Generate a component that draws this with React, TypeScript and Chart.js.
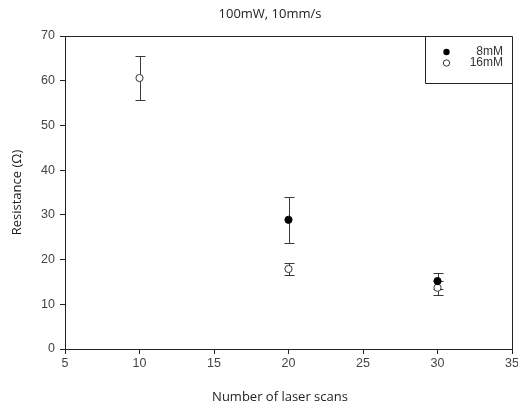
import { useEffect, useRef } from 'react';
import { Chart, registerables } from 'chart.js';

Chart.register(...registerables);

const chartTitle = '100mW, 10mm/s';
const xAxisTitle = 'Number of laser scans';
const yAxisTitle = 'Resistance (Ω)';

const seriesNames = ['8mM', '16mM'];

const scans8mM = [20, 30];
const resistance8mM = [28.9, 15.2];
const error8mM = [5.15, 1.7];

const scans16mM = [10, 20, 30];
const resistance16mM = [60.6, 17.9, 13.7];
const error16mM = [4.95, 1.35, 1.6];

const xMin = 5;
const xMax = 35;
const xStep = 5;
const yMin = 0;
const yMax = 70;
const yStep = 10;

const TITLE_FONT = '13px "Open Sans", sans-serif';

const errorBarPlugin = {
  id: 'errorBars',
  beforeDatasetsDraw(chart: any) {
    const { ctx, scales } = chart;
    const xs = scales.x;
    const ys = scales.y;
    ctx.save();
    ctx.strokeStyle = '#3a3a3a';
    ctx.lineWidth = 1;
    chart.data.datasets.forEach((ds: any) => {
      const errs: number[] = ds.errors || [];
      ds.data.forEach((pt: any, i: number) => {
        const e = errs[i];
        if (e == null) return;
        const px = Math.round(xs.getPixelForValue(pt.x)) + 0.5;
        const top = Math.round(ys.getPixelForValue(pt.y + e)) + 0.5;
        const bot = Math.round(ys.getPixelForValue(pt.y - e)) + 0.5;
        const cap = 5;
        ctx.beginPath();
        ctx.moveTo(px, top);
        ctx.lineTo(px, bot);
        ctx.moveTo(px - cap, top);
        ctx.lineTo(px + cap, top);
        ctx.moveTo(px - cap, bot);
        ctx.lineTo(px + cap, bot);
        ctx.stroke();
      });
    });
    ctx.restore();
  },
};

const titlesPlugin = {
  id: 'titles',
  afterDraw(chart: any) {
    const { ctx, chartArea } = chart;
    ctx.save();
    ctx.font = TITLE_FONT;
    ctx.fillStyle = '#222';
    ctx.textAlign = 'center';
    ctx.textBaseline = 'middle';
    ctx.fillText(chartTitle, chartArea.left + 205, 14);
    ctx.fillText(xAxisTitle, chartArea.left + 215, 397);
    ctx.restore();
  },
};

const frameLegendPlugin = {
  id: 'frameLegend',
  afterDraw(chart: any) {
    const { ctx, chartArea } = chart;
    const { left, right, top, bottom } = chartArea;
    ctx.save();
    ctx.strokeStyle = '#222';
    ctx.lineWidth = 1;
    ctx.beginPath();
    ctx.moveTo(Math.round(left) + 0.5, Math.round(top) + 0.5);
    ctx.lineTo(Math.round(right) + 0.5, Math.round(top) + 0.5);
    ctx.lineTo(Math.round(right) + 0.5, Math.round(bottom) + 0.5);
    ctx.stroke();
    const bx = Math.round(right) - 87 + 0.5;
    const by = Math.round(top) + 47 + 0.5;
    ctx.beginPath();
    ctx.moveTo(bx, Math.round(top) + 0.5);
    ctx.lineTo(bx, by);
    ctx.lineTo(Math.round(right) + 0.5, by);
    ctx.stroke();
    const mx = bx + 21;
    const textRight = Math.round(right) - 9;
    ctx.font = '12px "Liberation Sans", Arial, sans-serif';
    ctx.textAlign = 'right';
    ctx.textBaseline = 'middle';
    const rows = [top + 16, top + 27];
    seriesNames.forEach((name, i) => {
      const y = rows[i];
      ctx.beginPath();
      ctx.arc(mx, y, 3.2, 0, Math.PI * 2);
      if (i === 0) {
        ctx.fillStyle = '#000';
        ctx.fill();
      } else {
        ctx.fillStyle = '#fff';
        ctx.fill();
        ctx.strokeStyle = '#333';
        ctx.stroke();
      }
      ctx.fillStyle = '#333';
      ctx.fillText(name, textRight, y);
    });
    ctx.restore();
  },
};

export default function App() {
  const canvasRef = useRef<HTMLCanvasElement | null>(null);

  useEffect(() => {
    document.body.style.margin = '0';
    const canvas = canvasRef.current;
    if (!canvas) return;
    const tickFont = { family: '"Liberation Sans", Arial, sans-serif', size: 12.5 };
    const titleFont = { family: '"Open Sans", sans-serif', size: 13, weight: 'normal' };
    const chart = new Chart(canvas, {
      type: 'scatter',
      data: {
        datasets: [
          {
            label: seriesNames[0],
            data: scans8mM.map((x, i) => ({ x, y: resistance8mM[i] })),
            errors: error8mM,
            pointRadius: 3.6,
            pointBackgroundColor: '#000',
            pointBorderColor: '#000',
            pointBorderWidth: 1,
            showLine: false,
          } as any,
          {
            label: seriesNames[1],
            data: scans16mM.map((x, i) => ({ x, y: resistance16mM[i] })),
            errors: error16mM,
            pointRadius: 3.6,
            pointBackgroundColor: '#fff',
            pointBorderColor: '#333',
            pointBorderWidth: 1,
            showLine: false,
          } as any,
        ],
      },
      options: {
        responsive: false,
        animation: false,
        layout: { padding: { left: 0, right: 6, top: 36, bottom: 0 } },
        plugins: {
          legend: { display: false },
          tooltip: { enabled: false },
          title: { display: false },
        },
        scales: {
          x: {
            type: 'linear',
            min: xMin,
            max: xMax,
            ticks: { stepSize: xStep, font: tickFont, color: '#444', padding: 2, maxRotation: 0 },
            grid: { drawOnChartArea: false, drawTicks: true, tickLength: 5, color: '#222' },
            border: { display: true, color: '#222' },
            title: { display: false },
            afterFit(scale: any) {
              scale.height = 58;
              scale.paddingLeft = 0;
              scale.paddingRight = 0;
            },
          },
          y: {
            type: 'linear',
            min: yMin,
            max: yMax,
            ticks: { stepSize: yStep, font: tickFont, color: '#444', padding: 5 },
            grid: { drawOnChartArea: false, drawTicks: true, tickLength: 5, color: '#222' },
            border: { display: true, color: '#222' },
            title: {
              display: true,
              text: yAxisTitle,
              font: titleFont,
              color: '#222',
              padding: { top: 9, bottom: 0 },
            },
            afterFit(scale: any) {
              scale.width = 65;
            },
          },
        },
      } as any,
      plugins: [errorBarPlugin, frameLegendPlugin, titlesPlugin],
    });
    return () => chart.destroy();
  }, []);

  return (
    <canvas
      ref={canvasRef}
      width={518}
      height={407}
      style={{ display: 'block', width: '518px', height: '407px' }}
    />
  );
}
